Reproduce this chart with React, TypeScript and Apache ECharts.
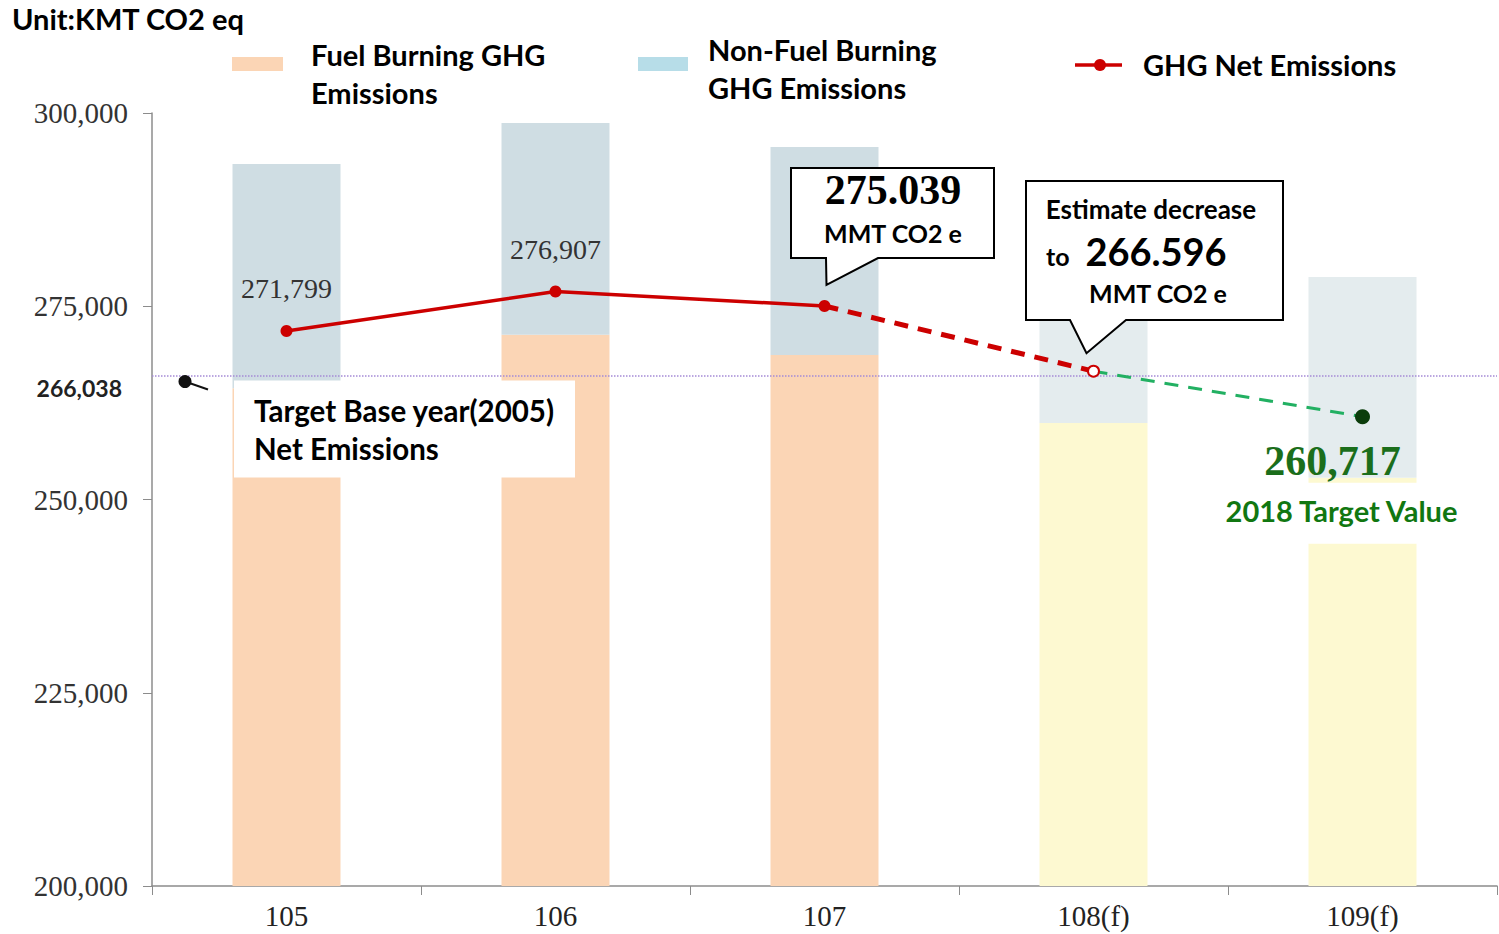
import React, { useEffect, useRef } from "react";
import * as echarts from "echarts";

const categories = ["105", "106", "107", "108(f)", "109(f)"];
const fuelBurning = [264400, 271300, 268700, 259900, 252800];
const nonFuelBurning = [29000, 27400, 26900, 13300, 26000];
const netEmissions = [271799, 276907, 275039, 266596, 260717];
const baseYearValue = 266038;
const yMin = 200000;
const yMax = 300000;
const yInterval = 25000;

const fuelColors = ["#fbd5b5", "#fbd5b5", "#fbd5b5", "#fdf9d1", "#fdf9d1"];
const nonFuelColors = ["#cfdde3", "#cfdde3", "#cfdde3", "#e4ecee", "#e4ecee"];

const SANS = "Lato, 'Open Sans', sans-serif";
const SERIF = "'Liberation Serif', 'DejaVu Serif', serif";

const fmt = (v: number) => v.toLocaleString("en-US");

export default function App() {
  const ref = useRef<HTMLDivElement>(null);
  useEffect(() => {
    if (!ref.current) return;
    const chart = echarts.init(ref.current, undefined, { renderer: "svg" });
    const option: any = {
      animation: false,
      grid: { left: 152, top: 113, bottom: 48, right: 2 },
      xAxis: {
        type: "category",
        data: categories,
        axisLine: { lineStyle: { color: "#8c8c8c", width: 1.5 } },
        axisTick: { show: true, length: 9, lineStyle: { color: "#8c8c8c" } },
        axisLabel: { fontFamily: SERIF, fontSize: 29, color: "#222", margin: 15 },
      },
      yAxis: {
        type: "value",
        min: yMin,
        max: yMax,
        interval: yInterval,
        splitLine: { show: false },
        axisLine: { show: true, lineStyle: { color: "#8c8c8c", width: 1.5 } },
        axisTick: { show: true, length: 9, lineStyle: { color: "#8c8c8c" } },
        axisLabel: {
          fontFamily: SERIF,
          fontSize: 29,
          color: "#333",
          margin: 24,
          formatter: (v: number) => fmt(v),
        },
      },
      series: [
        {
          type: "bar",
          stack: "total",
          barWidth: 108,
          data: fuelBurning.map((v, i) => ({ value: v, itemStyle: { color: fuelColors[i] } })),
        },
        {
          type: "bar",
          stack: "total",
          barWidth: 108,
          data: nonFuelBurning.map((v, i) => ({ value: v, itemStyle: { color: nonFuelColors[i] } })),
          markLine: {
            silent: true,
            symbol: "none",
            label: { show: false },
            lineStyle: { color: "#a58ad6", type: "dotted", width: 1.5 },
            data: [{ yAxis: baseYearValue }],
          },
        },
        {
          type: "line",
          data: netEmissions.map((v, i) =>
            i <= 2
              ? {
                  value: v,
                  label: {
                    show: i < 2,
                    position: "top",
                    distance: 22,
                    formatter: fmt(v),
                    fontFamily: SERIF,
                    fontSize: 28,
                    color: "#333",
                  },
                }
              : "-"
          ),
          symbol: "circle",
          symbolSize: 12,
          itemStyle: { color: "#cc0000" },
          lineStyle: { color: "#cc0000", width: 3.5 },
          z: 5,
        },
        {
          type: "line",
          data: netEmissions.map((v, i) => (i === 2 || i === 3 ? v : "-")),
          showSymbol: false,
          lineStyle: { color: "#cc0000", width: 5, type: [14, 10] },
          z: 4,
        },
        {
          type: "line",
          data: netEmissions.map((v, i) =>
            i === 3
              ? {
                  value: v,
                  symbol: "circle",
                  symbolSize: 11,
                  itemStyle: { color: "#ffffff", borderColor: "#cc0000", borderWidth: 2 },
                }
              : i === 4
              ? {
                  value: v,
                  symbol: "circle",
                  symbolSize: 15,
                  itemStyle: { color: "#0b3d0b" },
                }
              : "-"
          ),
          lineStyle: { color: "#22b062", width: 3, type: [14, 10] },
          z: 6,
        },
      ],
    };
    chart.setOption(option);

    const px = (i: number, v: number) => chart.convertToPixel({ gridIndex: 0 }, [i, v]) as number[];
    const yBase = px(0, baseYearValue)[1];
    const p2 = px(2, netEmissions[2]);
    const p3 = px(3, netEmissions[3]);
    const p4 = px(4, netEmissions[4]);
    const f4 = px(4, fuelBurning[4]);

    const bold = (x: number, y: number, text: string, size: number, extra: any = {}) => ({
      type: "text",
      x,
      y,
      z: 100,
      style: {
        text,
        fontFamily: SANS,
        fontWeight: "bold",
        fontSize: size,
        fill: "#000",
        verticalAlign: "middle",
        ...extra,
      },
    });

    const graphic: any[] = [
      bold(12, 18, "Unit:KMT CO2 eq", 29),
      // legend
      { type: "rect", shape: { x: 232, y: 57, width: 51, height: 14 }, style: { fill: "#fbd5b5" } },
      bold(311, 54, "Fuel Burning GHG", 29),
      bold(311, 92, "Emissions", 29),
      { type: "rect", shape: { x: 638, y: 57, width: 50, height: 14 }, style: { fill: "#b7dde8" } },
      bold(708, 49, "Non-Fuel Burning", 29),
      bold(708, 87, "GHG Emissions", 29),
      {
        type: "line",
        shape: { x1: 1075, y1: 65, x2: 1122, y2: 65 },
        style: { stroke: "#cc0000", lineWidth: 3.5 },
      },
      { type: "circle", shape: { cx: 1100, cy: 65, r: 6 }, style: { fill: "#cc0000" } },
      bold(1143, 64, "GHG Net Emissions", 29),
      // base-year marker
      {
        type: "line",
        shape: { x1: 185, y1: yBase + 6, x2: 208, y2: yBase + 14 },
        style: { stroke: "#111", lineWidth: 2 },
        z: 50,
      },
      { type: "circle", shape: { cx: 185, cy: yBase + 6, r: 6.5 }, style: { fill: "#111" }, z: 51 },
      bold(122, yBase + 12, "266,038", 23, { align: "right", fill: "#222" }),
      // target base year box
      { type: "rect", shape: { x: 234, y: yBase + 5, width: 341, height: 97 }, style: { fill: "#fff" }, z: 60 },
      bold(254, yBase + 35, "Target Base year(2005)", 29.5),
      bold(254, yBase + 73, "Net Emissions", 29.5),
      // callout 1
      {
        type: "polygon",
        z: 70,
        shape: {
          points: [
            [791, 168],
            [994, 168],
            [994, 258],
            [878, 258],
            [p2[0] + 2, p2[1] - 21],
            [826, 258],
            [791, 258],
          ],
        },
        style: { fill: "#fff", stroke: "#000", lineWidth: 2 },
      },
      bold(893, 190, "275.039", 42, { align: "center", fontFamily: SERIF }),
      bold(893, 233, "MMT CO2 e", 25, { align: "center" }),
      // callout 2
      {
        type: "polygon",
        z: 70,
        shape: {
          points: [
            [1026, 181],
            [1283, 181],
            [1283, 320],
            [1126, 320],
            [p3[0] - 7, p3[1] - 18],
            [1070, 320],
            [1026, 320],
          ],
        },
        style: { fill: "#fff", stroke: "#000", lineWidth: 2 },
      },
      bold(1151, 209, "Estimate decrease", 26, { align: "center" }),
      bold(1046, 256, "to", 25),
      bold(1156, 251, "266.596", 38, { align: "center" }),
      bold(1158, 293, "MMT CO2 e", 25, { align: "center" }),
      // target value
      {
        type: "rect",
        shape: { x: f4[0] - 60, y: f4[1] + 5, width: 120, height: 61 },
        style: { fill: "#fff" },
        z: 60,
      },
      bold(p4[0] - 30, p4[1] + 44, "260,717", 42, { align: "center", fontFamily: SERIF, fill: "#1b6e1b" }),
      bold(p4[0] - 21, p4[1] + 94, "2018 Target Value", 29, { align: "center", fill: "#117711" }),
    ];
    chart.setOption({ graphic });

    return () => chart.dispose();
  }, []);
  return <div ref={ref} style={{ width: 1499, height: 934, position: "absolute", left: 0, top: 0, background: "#fff" }} />;
}
